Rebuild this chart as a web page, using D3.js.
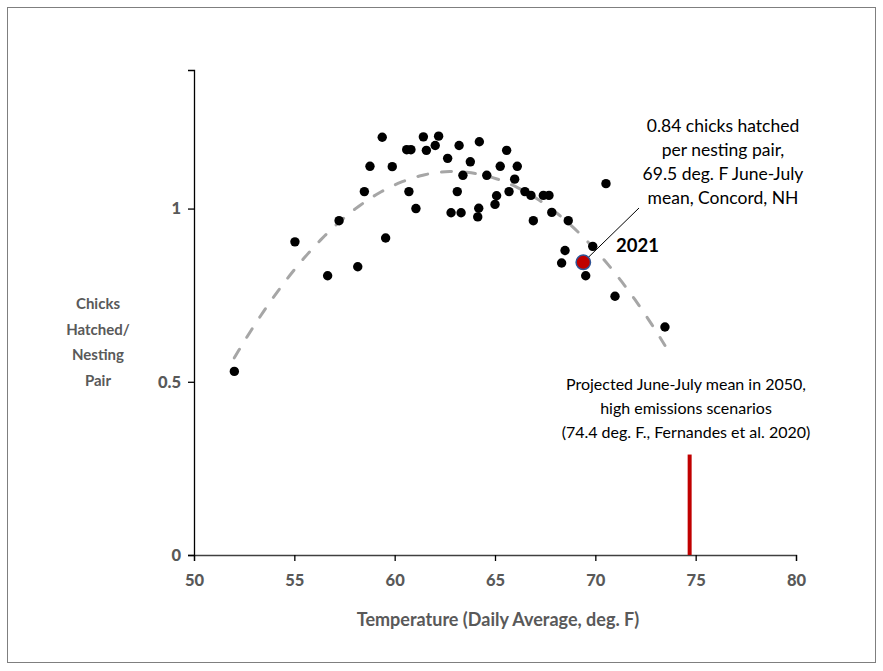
<!DOCTYPE html>
<html><head><meta charset="utf-8">
<script src="https://cdn.jsdelivr.net/npm/d3@7"></script>
<style>
html,body{margin:0;padding:0;background:#fff;}
svg{display:block;font-family:Lato,"Open Sans",sans-serif;}
</style></head>
<body><svg id="chart" width="883" height="671"></svg>
<script>
// ---- data ----
const temps  = [52.01,55.03,56.66,57.23,58.16,58.49,58.77,59.38,59.55,59.88,
                60.60,60.81,60.71,61.06,61.43,61.58,62.02,62.19,62.64,62.81,
                63.12,63.21,63.31,63.40,63.77,64.14,64.19,64.22,64.59,65.00,
                65.08,65.26,65.58,65.70,65.98,66.11,66.49,66.79,66.91,67.41,
                67.69,67.83,68.65,68.32,68.49,69.87,69.52,70.53,70.98,73.47];
const chicks = [0.530,0.904,0.806,0.965,0.832,1.049,1.122,1.206,0.915,1.121,
                1.170,1.170,1.049,1.000,1.207,1.168,1.182,1.209,1.145,0.988,
                1.049,1.182,0.988,1.096,1.135,0.976,1.001,1.193,1.096,1.012,
                1.037,1.122,1.168,1.049,1.085,1.122,1.049,1.038,0.965,1.038,
                1.038,0.989,0.965,0.843,0.879,0.891,0.806,1.072,0.747,0.658];
const highlightTemp   = [69.4];
const highlightChicks = [0.845];
const highlightLabel  = ["2021"];
const projectedTemp   = [74.7];
const projectedTop    = [0.29];
const xTicks = [50,55,60,65,70,75,80];
const yTicks = [0,0.5,1];
const yTickLabels = ["0","0.5","1"];
const noteLines = ["0.84 chicks hatched","per nesting pair,","69.5 deg. F June-July","mean, Concord, NH"];
const projLines = ["Projected June-July mean in 2050,","high emissions scenarios","(74.4 deg. F., Fernandes et al. 2020)"];
const yTitleLines = ["Chicks","Hatched/","Nesting","Pair"];
const xTitle = "Temperature (Daily Average, deg. F)";

// ---- drawing ----
const svg = d3.select("#chart");
svg.append("rect").attr("x",7.5).attr("y",7.5).attr("width",868).attr("height",655)
  .attr("fill","#fff").attr("stroke","#7f7f7f").attr("stroke-width",1);

const x = d3.scaleLinear().domain([50,80]).range([194,796]);
const y = d3.scaleLinear().domain([0,1.4]).range([555,70]);

// quadratic least-squares trendline from the scatter data
function quadFit(xs, ys){
  let S=[0,0,0,0,0], T=[0,0,0];
  xs.forEach((xv,i)=>{ let p=1; for(let k=0;k<5;k++){S[k]+=p; if(k<3) T[k]+=p*ys[i]; p*=xv;} });
  const A=[[S[0],S[1],S[2],T[0]],[S[1],S[2],S[3],T[1]],[S[2],S[3],S[4],T[2]]];
  for(let i=0;i<3;i++){ for(let j=i+1;j<3;j++){ const f=A[j][i]/A[i][i]; for(let k=i;k<4;k++) A[j][k]-=f*A[i][k]; } }
  const c=[0,0,0];
  for(let i=2;i>=0;i--){ let s=A[i][3]; for(let k=i+1;k<3;k++) s-=A[i][k]*c[k]; c[i]=s/A[i][i]; }
  return c;
}
const coef = quadFit(temps, chicks);
const [tMin,tMax] = d3.extent(temps);
const trend = d3.range(0,101).map(i=>{ const t=tMin+(tMax-tMin)*i/100; return [t, coef[0]+coef[1]*t+coef[2]*t*t]; });

// axes
const xAxis = svg.append("g").attr("transform","translate(0,555)")
  .call(d3.axisBottom(x).tickValues(xTicks).tickSize(6).tickPadding(13).tickFormat(d3.format("d")));
const yAxis = svg.append("g").attr("transform","translate(194,0)")
  .call(d3.axisLeft(y).tickValues(yTicks).tickSize(6).tickPadding(7).tickFormat((d,i)=>yTickLabels[i]));
xAxis.select(".domain").attr("stroke","#404040").attr("stroke-width",1.3);
yAxis.select(".domain").attr("stroke","#000").attr("stroke-width",1.3);
[xAxis,yAxis].forEach(a=>{
  a.attr("font-family",null).attr("font-size",null);
  a.selectAll(".tick line").attr("stroke","#000").attr("stroke-width",1.3);
  a.selectAll(".tick text").attr("fill","#595959")
    .style("font-family","Lato").style("font-weight","900").style("font-size","16.5px");
});

// trendline
svg.append("path").datum(trend)
  .attr("d", d3.line().x(d=>x(d[0])).y(d=>y(d[1])))
  .attr("fill","none").attr("stroke","#a6a6a6").attr("stroke-width",3)
  .attr("stroke-dasharray","10,14").attr("stroke-linecap","round");

// scatter points
svg.append("g").selectAll("circle").data(temps).join("circle")
  .attr("cx",(d)=>x(d)).attr("cy",(d,i)=>y(chicks[i])).attr("r",4.7).attr("fill","#000");

// projected line
svg.append("line").attr("x1",x(projectedTemp[0])).attr("x2",x(projectedTemp[0]))
  .attr("y1",y(projectedTop[0])).attr("y2",y(0)).attr("stroke","#c00000").attr("stroke-width",4);

// leader line + highlight point
svg.append("line").attr("x1",x(highlightTemp[0])).attr("y1",y(highlightChicks[0]))
  .attr("x2",639).attr("y2",208).attr("stroke","#000").attr("stroke-width",1);
svg.append("circle").attr("cx",x(highlightTemp[0])).attr("cy",y(highlightChicks[0])).attr("r",7.2)
  .attr("fill","#c00000").attr("stroke","#2f5597").attr("stroke-width",1.5);
svg.append("text").attr("x",616).attr("y",252).text(highlightLabel[0])
  .style("font-weight","700").style("font-size","18.5px").attr("fill","#000");

// notes
svg.append("g").selectAll("text").data(noteLines).join("text")
  .attr("x",723).attr("y",(d,i)=>132+i*24).attr("text-anchor","middle")
  .style("font-size","17.5px").attr("fill","#000").text(d=>d);
svg.append("g").selectAll("text").data(projLines).join("text")
  .attr("x",686).attr("y",(d,i)=>390+i*24).attr("text-anchor","middle")
  .style("font-size","16px").attr("fill","#000").text(d=>d);

// titles
svg.append("g").selectAll("text").data(yTitleLines).join("text")
  .attr("x",98).attr("y",(d,i)=>309+i*25.5).attr("text-anchor","middle")
  .style("font-size","15px").style("font-weight","700").attr("fill","#595959").text(d=>d);
svg.append("text").attr("x",498).attr("y",626).attr("text-anchor","middle")
  .style("font-size","18px").style("font-weight","700").attr("fill","#595959").text(xTitle);
</script></body></html>
